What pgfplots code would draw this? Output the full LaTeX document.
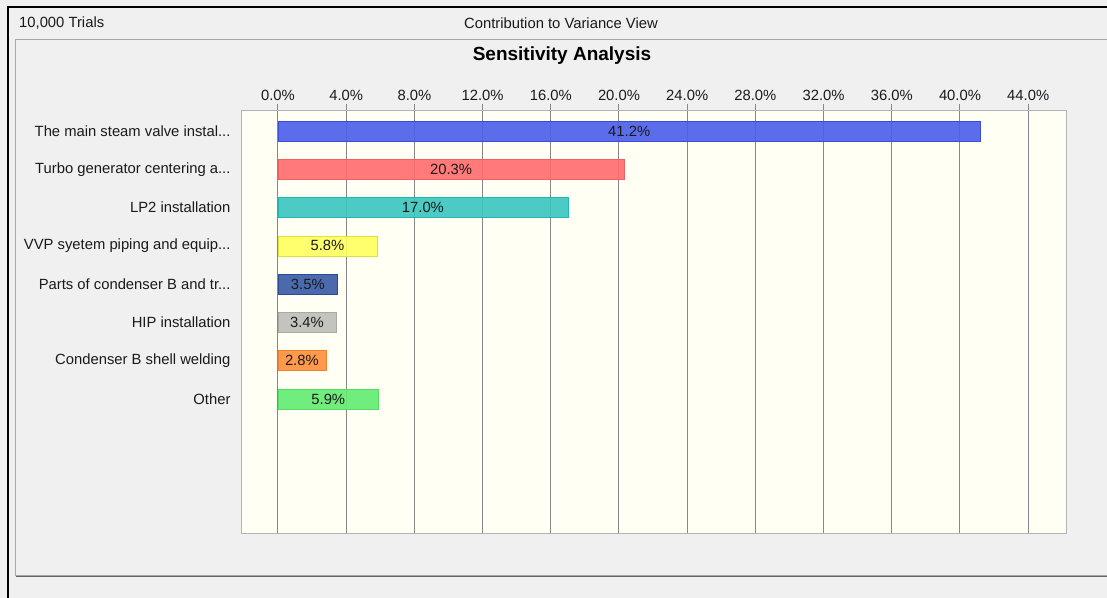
\documentclass[border=0pt]{standalone}
\usepackage{pgfplots}
\pgfplotsset{compat=1.18}
\usepackage{fontspec}
\setmainfont{Liberation Sans}
\definecolor{bgray}{HTML}{F0F0F0}
\definecolor{plotbg}{HTML}{FFFFF3}
\definecolor{gridgray}{HTML}{888888}
\definecolor{axisgray}{HTML}{B4B4B4}
\definecolor{panelgray}{HTML}{A8A8A8}
\definecolor{textc}{HTML}{1A1A1A}
\definecolor{cA}{HTML}{4A5EEA}\definecolor{cAd}{HTML}{3A4CD8}
\definecolor{cB}{HTML}{FF6C6C}\definecolor{cBd}{HTML}{F06060}
\definecolor{cC}{HTML}{38C6BF}\definecolor{cCd}{HTML}{22B8B0}
\definecolor{cD}{HTML}{FFFF60}\definecolor{cDd}{HTML}{E0E040}
\definecolor{cE}{HTML}{385AA6}\definecolor{cEd}{HTML}{2A4A98}
\definecolor{cF}{HTML}{BEBEBA}\definecolor{cFd}{HTML}{A8A8A4}
\definecolor{cG}{HTML}{FF903C}\definecolor{cGd}{HTML}{F08030}
\definecolor{cH}{HTML}{62EC72}\definecolor{cHd}{HTML}{50DD60}
\newcommand{\fs}{\fontsize{14.8bp}{17bp}\selectfont}
\newcommand{\ft}{\fontsize{19bp}{22bp}\selectfont}
\begin{document}
\begin{tikzpicture}
\useasboundingbox (0bp,0bp) rectangle (1107bp,598bp);
\fill[bgray] (0bp,0bp) rectangle (1107bp,598bp);
\draw[black, line width=1.4bp] (8bp,-10bp) -- (8bp,591bp) -- (1120bp,591bp);
\draw[panelgray, line width=1bp] (1120bp,558bp) -- (15.5bp,558bp) -- (15.5bp,22.5bp) -- (1120bp,22.5bp);
\draw[gray!80!black, line width=1bp] (15.5bp,21.6bp) -- (1120bp,21.6bp);
\node[anchor=west, font=\fs, text=textc, inner sep=0pt] at (19bp,574.5bp) {10,000 Trials};
\node[font=\fs, text=textc, inner sep=0pt] at (561bp,574.5bp) {Contribution to Variance View};
\node[font=\ft\bfseries, text=black, inner sep=0pt] at (562bp,542bp) {Sensitivity Analysis};
\begin{axis}[
  at={(241bp,65bp)}, anchor=south west,
  scale only axis, width=825.7bp, height=422bp,
  xmin=-2.17, xmax=46.26, ymin=-0.52, ymax=10.5, y dir=reverse,
  axis background/.style={fill=plotbg},
  axis line style={draw=axisgray, line width=1bp},
  xtick={0,4,...,44},
  xticklabels={0.0\%,4.0\%,8.0\%,12.0\%,16.0\%,20.0\%,24.0\%,28.0\%,32.0\%,36.0\%,40.0\%,44.0\%},
  xtick pos=right, xticklabel pos=right,
  tick align=outside, major tick length=7bp,
  xtick style={draw=gridgray, line width=1bp},
  xmajorgrids, grid style={draw=gridgray, line width=1bp},
  ytick={0,1,2,3,4,5,6,7},
  yticklabels={{The main steam valve instal.{}.{}.},{Turbo generator centering a.{}.{}.},{LP2 installation},{VVP syetem piping and equip.{}.{}.},{Parts of condenser B and tr.{}.{}.},{HIP installation},{Condenser B shell welding},{Other}},
  ytick style={draw=none},
  ticklabel style={font=\fs, text=textc},
  xbar, bar width=20bp, bar shift=0pt,
  point meta=x,
  visualization depends on={x \as \rawx},
  nodes near coords={\pgfmathprintnumber[fixed,fixed zerofill,precision=1,assume math mode=true]{\pgfplotspointmeta}\%},
  every node near coord/.append style={anchor=center, xshift={-0.5*\rawx*17.05bp}, font=\fs, text=textc, fill opacity=1, text opacity=1, draw opacity=1},
  clip=false,
]
\addplot[fill=cA, draw=cAd, fill opacity=0.9] coordinates {(41.2,0)};
\addplot[fill=cB, draw=cBd, fill opacity=0.9] coordinates {(20.3,1)};
\addplot[fill=cC, draw=cCd, fill opacity=0.9] coordinates {(17.0,2)};
\addplot[fill=cD, draw=cDd, fill opacity=0.9] coordinates {(5.8,3)};
\addplot[fill=cE, draw=cEd, fill opacity=0.9] coordinates {(3.5,4)};
\addplot[fill=cF, draw=cFd, fill opacity=0.9] coordinates {(3.4,5)};
\addplot[fill=cG, draw=cGd, fill opacity=0.9] coordinates {(2.8,6)};
\addplot[fill=cH, draw=cHd, fill opacity=0.9] coordinates {(5.9,7)};
\end{axis}
\end{tikzpicture}
\end{document}
